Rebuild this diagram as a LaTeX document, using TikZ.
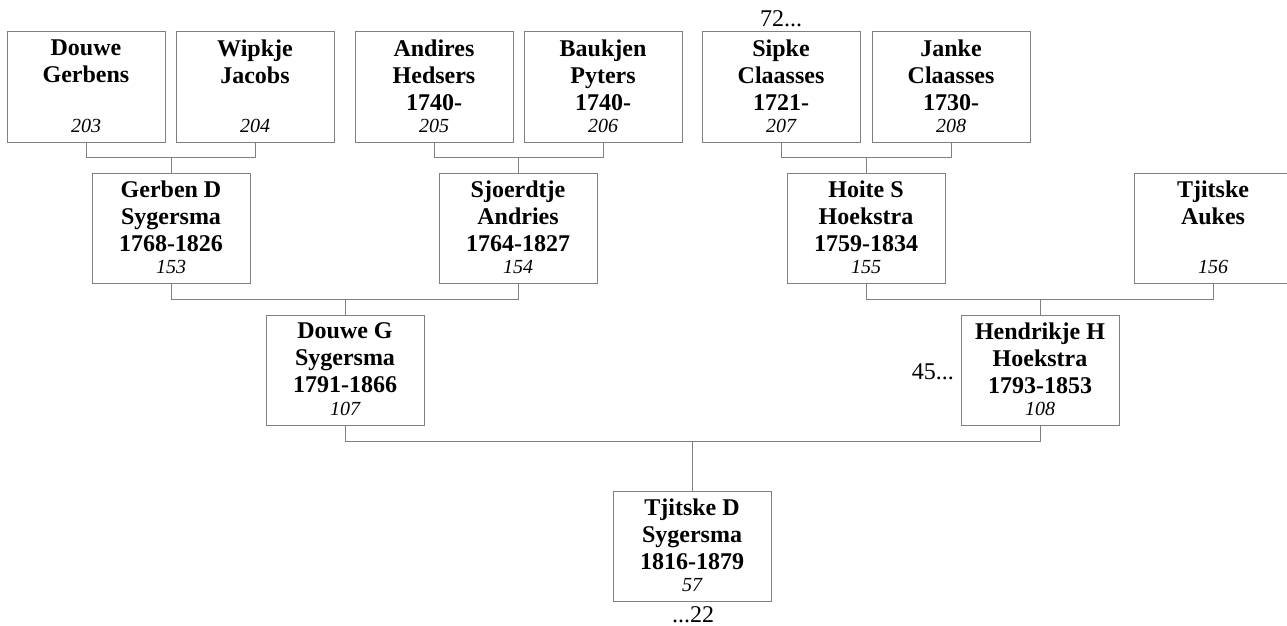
\documentclass[tikz,border=0pt]{standalone}
\usepackage{fontspec}
\setmainfont{Liberation Serif}
\begin{document}
\begin{tikzpicture}[x=1pt,y=-1pt,
  personbox/.style={draw=black!50, line width=1pt, minimum width=158pt, minimum height=110pt, inner sep=0pt, fill=white},
  nametext/.style={anchor=north, align=center, inner sep=0pt, font=\bfseries\fontsize{24}{27}\selectfont},
  numtext/.style={anchor=base, inner sep=0pt, font=\itshape\fontsize{20}{23}\selectfont},
  reftext/.style={inner sep=0pt, font=\fontsize{24}{27}\selectfont},
  conn/.style={draw=black!50, line width=1pt}]
\useasboundingbox (0,0) rectangle (1287,626);
\fill[white] (0,0) rectangle (1287,626);
% row levels for connectors
\coordinate (r1) at (0,157);
\coordinate (r2) at (0,299);
\coordinate (r3) at (0,441);
% boxes
\node[personbox] (d203) at (86,87) {};
\node[personbox] (d204) at (255,87) {};
\node[personbox] (d205) at (434,87) {};
\node[personbox] (d206) at (603,87) {};
\node[personbox] (d207) at (781,87) {};
\node[personbox] (d208) at (951,87) {};
\node[personbox] (g153) at (171,228) {};
\node[personbox] (g154) at (518,228) {};
\node[personbox] (g155) at (866,228) {};
\node[personbox] (g156) at (1213,228) {};
\node[personbox] (p107) at (345,370) {};
\node[personbox] (p108) at (1040,370) {};
\node[personbox] (c57) at (692,546) {};
% texts
\node[nametext] (t203) at ([yshift=-8pt]d203.north) {Douwe\\Gerbens};
\node[numtext] (n203) at ([yshift=10pt]d203.south) {203};
\node[nametext] (t204) at ([yshift=-8pt]d204.north) {Wipkje\\Jacobs};
\node[numtext] (n204) at ([yshift=10pt]d204.south) {204};
\node[nametext] (t205) at ([yshift=-8pt]d205.north) {Andires\\Hedsers\\1740-};
\node[numtext] (n205) at ([yshift=10pt]d205.south) {205};
\node[nametext] (t206) at ([yshift=-8pt]d206.north) {Baukjen\\Pyters\\1740-};
\node[numtext] (n206) at ([yshift=10pt]d206.south) {206};
\node[nametext] (t207) at ([yshift=-8pt]d207.north) {Sipke\\Claasses\\1721-};
\node[numtext] (n207) at ([yshift=10pt]d207.south) {207};
\node[nametext] (t208) at ([yshift=-8pt]d208.north) {Janke\\Claasses\\1730-};
\node[numtext] (n208) at ([yshift=10pt]d208.south) {208};
\node[nametext] (t153) at ([yshift=-8pt]g153.north) {Gerben D\\Sygersma\\1768-1826};
\node[numtext] (n153) at ([yshift=10pt]g153.south) {153};
\node[nametext] (t154) at ([yshift=-8pt]g154.north) {Sjoerdtje\\Andries\\1764-1827};
\node[numtext] (n154) at ([yshift=10pt]g154.south) {154};
\node[nametext] (t155) at ([yshift=-8pt]g155.north) {Hoite S\\Hoekstra\\1759-1834};
\node[numtext] (n155) at ([yshift=10pt]g155.south) {155};
\node[nametext] (t156) at ([yshift=-8pt]g156.north) {Tjitske\\Aukes};
\node[numtext] (n156) at ([yshift=10pt]g156.south) {156};
\node[nametext] (t107) at ([yshift=-8pt]p107.north) {Douwe G\\Sygersma\\1791-1866};
\node[numtext] (n107) at ([yshift=10pt]p107.south) {107};
\node[nametext] (t108) at ([yshift=-8pt]p108.north) {Hendrikje H\\Hoekstra\\1793-1853};
\node[numtext] (n108) at ([yshift=10pt]p108.south) {108};
\node[nametext] (t57) at ([yshift=-8pt]c57.north) {Tjitske D\\Sygersma\\1816-1879};
\node[numtext] (n57) at ([yshift=10pt]c57.south) {57};
% continuation references
\node[reftext, anchor=base] (ref72) at (781,27) {72...};
\node[reftext, anchor=base east] (ref45) at (954,379) {45...};
\node[reftext, anchor=base] (ref22) at (693,622) {...22};
% connectors
\draw[conn] (d203.south) |- (d203.south |- r1) -| (d204.south);
\draw[conn] (g153.north) -- (g153.north |- r1);
\draw[conn] (d205.south) |- (d205.south |- r1) -| (d206.south);
\draw[conn] (g154.north) -- (g154.north |- r1);
\draw[conn] (d207.south) |- (d207.south |- r1) -| (d208.south);
\draw[conn] (g155.north) -- (g155.north |- r1);
\draw[conn] (g153.south) |- (g153.south |- r2) -| (g154.south);
\draw[conn] (p107.north) -- (p107.north |- r2);
\draw[conn] (g155.south) |- (g155.south |- r2) -| (g156.south);
\draw[conn] (p108.north) -- (p108.north |- r2);
\draw[conn] (p107.south) |- (p107.south |- r3) -| (p108.south);
\draw[conn] (c57.north) -- (c57.north |- r3);
\end{tikzpicture}
\end{document}
